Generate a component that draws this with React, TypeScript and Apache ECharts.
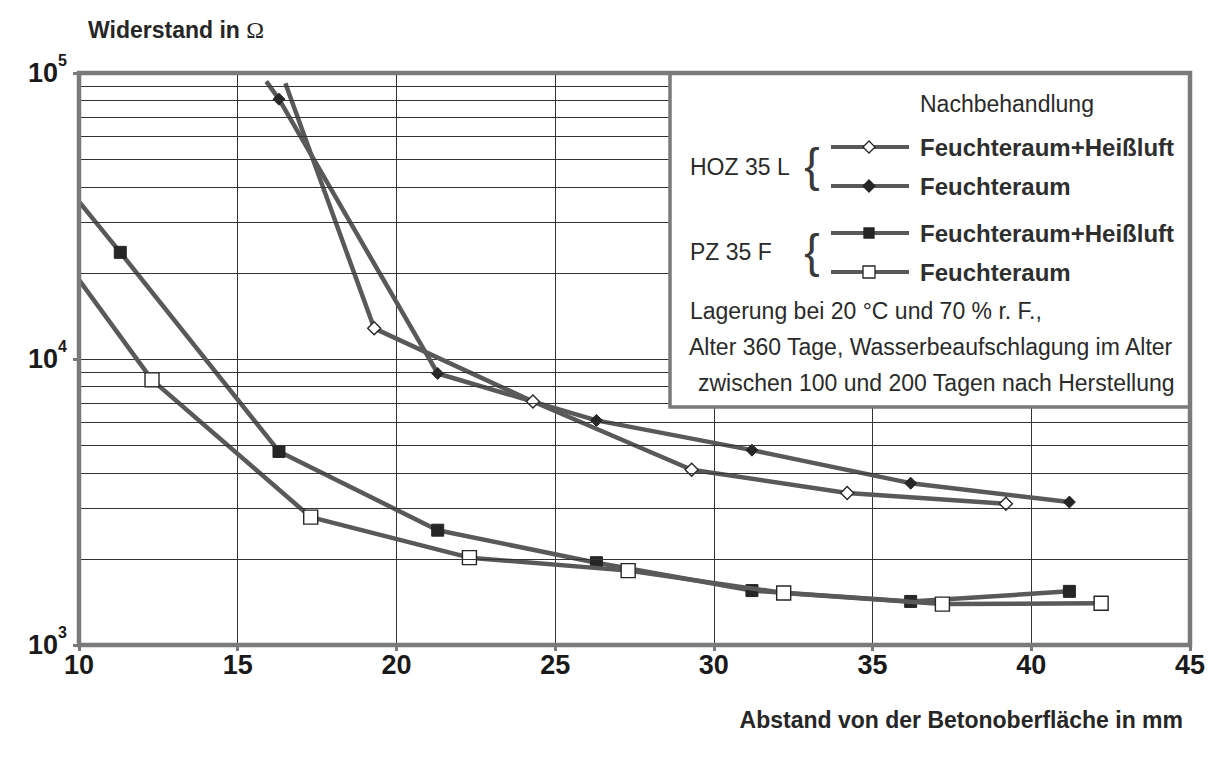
import React, { useEffect, useRef } from "react";
import * as echarts from "echarts";

// ---------- data ----------
// x: Abstand von der Betonoberfläche in mm, y: Widerstand in Ohm
// the first entry of each series is where the curve enters the frame (drawn without marker)
const xTickStep = 5;
const xMin = 10;
const xMax = 45;
const yMin = 1000;
const yMax = 100000;
const minorGridValues = [2000, 3000, 4000, 5000, 6000, 7000, 8000, 9000, 20000, 30000, 40000, 50000, 60000, 70000, 80000, 90000];

const hozFH_x = [16.5, 19.3, 24.3, 29.3, 34.2, 39.2];
const hozFH_y = [92000, 12800, 7100, 4100, 3400, 3120];

const hozF_x = [15.9, 16.3, 21.3, 26.3, 31.2, 36.2, 41.2];
const hozF_y = [93500, 81000, 8900, 6100, 4800, 3680, 3160];

const pzFH_x = [10, 11.3, 16.3, 21.3, 26.3, 31.2, 36.2, 41.2];
const pzFH_y = [35500, 23600, 4750, 2520, 1940, 1550, 1420, 1540];

const pzF_x = [10, 12.3, 17.3, 22.3, 27.3, 32.2, 37.2, 42.2];
const pzF_y = [18900, 8450, 2800, 2020, 1820, 1520, 1390, 1400];

const legendTexts = {
  head: "Nachbehandlung",
  hoz: "HOZ 35 L",
  pz: "PZ 35 F",
  fh: "Feuchteraum+Heißluft",
  f: "Feuchteraum",
  note1: "Lagerung bei 20 °C und 70 % r. F.,",
  note2: "Alter 360 Tage, Wasserbeaufschlagung im Alter",
  note3: "zwischen 100 und 200 Tagen nach Herstellung",
};
const yTitle = "Widerstand in ";
const xTitle = "Abstand von der Betonoberfläche in mm";

export default function App() {
  const ref = useRef<HTMLDivElement>(null);

  useEffect(() => {
    if (!ref.current) return;
    const chart = echarts.init(ref.current, null, { renderer: "svg" });
    const FONT = "'Liberation Sans', Arial, Helvetica, sans-serif";
    const SERIF = "'Liberation Serif', 'Times New Roman', serif";
    const lineColor = "#595959";
    const dark = "#262626";
    const frame = "#7a7a7a";

    const pts = (xs: number[], ys: number[], bareFirst: boolean) =>
      xs.map((x, i) => (i === 0 && bareFirst ? { value: [x, ys[i]], symbol: "none" } : [x, ys[i]]));

    const gl = { left: 79, top: 73, right: 1190, bottom: 645 };

    const legendRows = [
      { y: 147, label: legendTexts.fh, marker: "diamondOpen" },
      { y: 186, label: legendTexts.f, marker: "diamondFilled" },
      { y: 233, label: legendTexts.fh, marker: "squareFilled" },
      { y: 272, label: legendTexts.f, marker: "squareOpen" },
    ];

    const legendGraphics: any[] = [];
    legendRows.forEach((r) => {
      legendGraphics.push({
        type: "line",
        shape: { x1: 831, y1: r.y, x2: 909, y2: r.y },
        style: { stroke: lineColor, lineWidth: 4 },
        z: 12,
      });
      const cx = 869;
      if (r.marker.startsWith("diamond")) {
        legendGraphics.push({
          type: "polygon",
          shape: { points: [[cx, r.y - 6], [cx + 6, r.y], [cx, r.y + 6], [cx - 6, r.y]] },
          style: { fill: r.marker === "diamondOpen" ? "#fff" : dark, stroke: dark, lineWidth: 1.3 },
          z: 13,
        });
      } else {
        const s = r.marker === "squareOpen" ? 12 : 10;
        legendGraphics.push({
          type: "rect",
          shape: { x: cx - s / 2, y: r.y - s / 2, width: s, height: s },
          style: { fill: r.marker === "squareOpen" ? "#fff" : dark, stroke: dark, lineWidth: 1.3 },
          z: 13,
        });
      }
      legendGraphics.push({
        type: "text",
        x: 920,
        y: r.y,
        style: { text: r.label, font: `bold 24px ${FONT}`, fill: "#2e2e2e", textVerticalAlign: "middle", textAlign: "left" },
        z: 13,
      });
    });

    const plainText = (text: string, x: number, y: number) => ({
      type: "text",
      x,
      y,
      style: { text, font: `23px ${FONT}`, fill: "#2a2a2a", textVerticalAlign: "middle", textAlign: "left" },
      z: 13,
    });

    const braces = [165, 251].map((y) => ({
      type: "text",
      x: 812,
      y,
      style: { text: "{", font: `46px ${FONT}`, fill: "#3a3a3a", textVerticalAlign: "middle", textAlign: "center" },
      z: 13,
    }));

    const option: any = {
      animation: false,
      backgroundColor: "#ffffff",
      grid: {
        left: gl.left,
        top: gl.top,
        width: gl.right - gl.left,
        height: gl.bottom - gl.top,
        containLabel: false,
      },
      xAxis: {
        type: "value",
        min: xMin,
        max: xMax,
        interval: xTickStep,
        axisLine: { show: false },
        axisTick: { show: true, length: 6, lineStyle: { color: frame, width: 3 } },
        splitLine: { show: true, lineStyle: { color: "#333", width: 1 } },
        axisLabel: {
          margin: 6,
          color: "#1a1a1a",
          fontFamily: FONT,
          fontWeight: "bold",
          fontSize: 27,
        },
      },
      yAxis: {
        type: "log",
        logBase: 10,
        min: yMin,
        max: yMax,
        axisLine: { show: false },
        axisTick: { show: true, length: 6, lineStyle: { color: frame, width: 3 } },
        splitLine: { show: true, lineStyle: { color: "#333", width: 1 } },
        minorTick: { show: false },
        axisLabel: {
          margin: 12,
          formatter: (v: number) => `{b|10}{s|${Math.round(Math.log10(v))}}`,
          rich: {
            b: { fontFamily: FONT, fontWeight: "bold", fontSize: 27, color: "#1a1a1a", lineHeight: 42 },
            s: { fontFamily: FONT, fontWeight: "bold", fontSize: 16, color: "#1a1a1a", lineHeight: 16, verticalAlign: "top" },
          },
        },
      },
      series: [
        {
          name: "grid",
          type: "line",
          data: [],
          silent: true,
          z: 1,
          markLine: {
            silent: true,
            animation: false,
            symbol: ["none", "none"],
            label: { show: false },
            emphasis: { disabled: true },
            lineStyle: { color: "#333", width: 1, type: "solid" },
            data: minorGridValues.map((v) => ({ yAxis: v })),
          },
        },
        {
          name: "HOZ 35 L – Feuchteraum+Heißluft",
          type: "line",
          data: pts(hozFH_x, hozFH_y, true),
          symbol: "diamond",
          symbolSize: 13,
          itemStyle: { color: "#ffffff", borderColor: dark, borderWidth: 1.4 },
          lineStyle: { color: lineColor, width: 4.5 },
          z: 4,
        },
        {
          name: "HOZ 35 L – Feuchteraum",
          type: "line",
          data: pts(hozF_x, hozF_y, true),
          symbol: "diamond",
          symbolSize: 12,
          itemStyle: { color: dark, borderColor: dark, borderWidth: 1 },
          lineStyle: { color: lineColor, width: 4.5 },
          z: 3,
        },
        {
          name: "PZ 35 F – Feuchteraum+Heißluft",
          type: "line",
          data: pts(pzFH_x, pzFH_y, true),
          symbol: "rect",
          symbolSize: 12,
          itemStyle: { color: dark, borderColor: dark, borderWidth: 1 },
          lineStyle: { color: lineColor, width: 4.5 },
          z: 3,
        },
        {
          name: "PZ 35 F – Feuchteraum",
          type: "line",
          data: pts(pzF_x, pzF_y, true),
          symbol: "rect",
          symbolSize: 14,
          itemStyle: { color: "#ffffff", borderColor: dark, borderWidth: 1.4 },
          lineStyle: { color: lineColor, width: 4.5 },
          z: 4,
        },
      ],
      graphic: [
        // legend box
        {
          type: "rect",
          shape: { x: 670, y: gl.top, width: gl.right - 670, height: 334 },
          style: { fill: "#ffffff", stroke: frame, lineWidth: 3.5 },
          z: 10,
        },
        // plot frame
        {
          type: "rect",
          silent: true,
          shape: { x: gl.left, y: gl.top, width: gl.right - gl.left, height: gl.bottom - gl.top },
          style: { fill: "none", stroke: frame, lineWidth: 4.5 },
          z: 11,
        },
        plainText(legendTexts.head, 920, 104),
        plainText(legendTexts.hoz, 690, 167),
        plainText(legendTexts.pz, 690, 252),
        ...braces,
        ...legendGraphics,
        plainText(legendTexts.note1, 690, 311),
        plainText(legendTexts.note2, 689, 347),
        plainText(legendTexts.note3, 698, 383),
        // axis titles
        {
          type: "text",
          x: 88,
          y: 30,
          style: {
            text: `{t|${yTitle}}{o|Ω}`,
            textVerticalAlign: "middle",
            textAlign: "left",
            rich: {
              t: { font: `bold 23px ${FONT}`, fill: "#262626" },
              o: { font: `24px ${SERIF}`, fill: "#262626" },
            },
          },
          z: 13,
        },
        {
          type: "text",
          x: 1183,
          y: 720,
          style: { text: xTitle, font: `bold 23px ${FONT}`, fill: "#262626", textVerticalAlign: "middle", textAlign: "right" },
          z: 13,
        },
      ],
    };

    chart.setOption(option);
    return () => {
      chart.dispose();
    };
  }, []);

  return (
    <div
      ref={ref}
      style={{ position: "fixed", left: 0, top: 0, width: "1218px", height: "757px", background: "#ffffff" }}
    />
  );
}
